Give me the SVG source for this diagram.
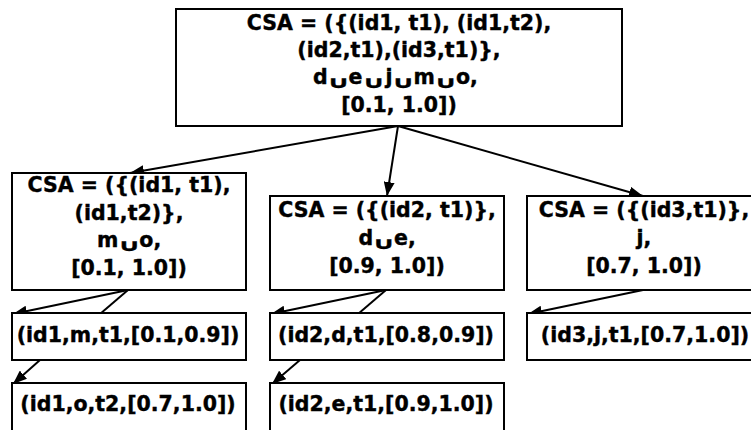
<svg xmlns="http://www.w3.org/2000/svg" width="751" height="430" viewBox="0 0 751 430">
  <defs>
    <style>
      .box { fill: #ffffff; stroke: #000000; stroke-width: 2; }
      .lbl { font-family: "DejaVu Sans", "Liberation Sans", sans-serif; font-weight: bold; font-size: 20.5px; fill: #000000; stroke: #000000; stroke-width: 0.4px; text-anchor: middle; }
      .row { text-anchor: start; }
      .edge { stroke: #000000; stroke-width: 2; fill: none; }
      .arrow { marker-end: url(#head); }
    </style>
    <marker id="head" markerUnits="userSpaceOnUse" markerWidth="15" markerHeight="11" refX="14" refY="5.5" orient="auto">
      <path d="M0,0 L14,5.5 L0,11 z" fill="#000000"/>
    </marker>
  </defs>
  <rect width="751" height="430" fill="#ffffff"/>

  <!-- connectors -->
  <g id="connectors">
    <line class="edge arrow" x1="398" y1="126" x2="130" y2="173"/>
    <line class="edge arrow" x1="398" y1="126" x2="387" y2="196"/>
    <line class="edge arrow" x1="398" y1="126" x2="643" y2="196"/>
    <line class="edge arrow" x1="128" y1="290" x2="13" y2="314"/>
    <line class="edge" x1="128" y1="290" x2="100" y2="314"/>
    <line class="edge arrow" x1="40" y1="360" x2="13" y2="384"/>
    <line class="edge arrow" x1="386" y1="290" x2="271" y2="314"/>
    <line class="edge" x1="386" y1="290" x2="358" y2="314"/>
    <line class="edge arrow" x1="300" y1="360" x2="272" y2="384"/>
    <line class="edge arrow" x1="643" y1="290" x2="528" y2="314"/>
  </g>

  <!-- root CSA -->
  <g id="csa-root">
    <rect class="box" x="176" y="9" width="446" height="117"/>
    <text class="lbl" x="399" y="30">CSA = ({(id1, t1), (id1,t2),</text>
    <text class="lbl" x="399" y="57">(id2,t1),(id3,t1)},</text>
    <!-- union of the sets: letters and wide, low union signs -->
    <text class="lbl row" x="313" y="84">d</text>
    <text class="lbl" transform="translate(338.1,88) scale(1.4,0.8)">∪</text>
    <text class="lbl row" x="348.6" y="84">e</text>
    <text class="lbl" transform="translate(373.5,88) scale(1.4,0.8)">∪</text>
    <text class="lbl row" x="385.5" y="84">j</text>
    <text class="lbl" transform="translate(403,88) scale(1.4,0.8)">∪</text>
    <text class="lbl row" x="413.5" y="84">m</text>
    <text class="lbl" transform="translate(445.4,88) scale(1.4,0.8)">∪</text>
    <text class="lbl row" x="455.9" y="84">o,</text>
    <text class="lbl" x="399" y="112">[0.1, 1.0])</text>
  </g>

  <!-- CSA for id1 -->
  <g id="csa-id1">
    <rect class="box" x="12" y="173" width="234" height="117"/>
    <text class="lbl" x="129" y="192">CSA = ({(id1, t1),</text>
    <text class="lbl" x="129" y="220">(id1,t2)},</text>
    <text class="lbl row" x="96.9" y="247">m</text>
    <text class="lbl" transform="translate(128.8,251) scale(1.4,0.8)">∪</text>
    <text class="lbl row" x="139.3" y="247">o,</text>
    <text class="lbl" x="129" y="275">[0.1, 1.0])</text>
  </g>

  <!-- CSA for id2 -->
  <g id="csa-id2">
    <rect class="box" x="270" y="196" width="234" height="94"/>
    <text class="lbl" x="387" y="217">CSA = ({(id2, t1)},</text>
    <text class="lbl row" x="358.4" y="245">d</text>
    <text class="lbl" transform="translate(383.5,249) scale(1.4,0.8)">∪</text>
    <text class="lbl row" x="394" y="245">e,</text>
    <text class="lbl" x="387" y="273">[0.9, 1.0])</text>
  </g>

  <!-- CSA for id3 -->
  <g id="csa-id3">
    <rect class="box" x="527" y="196" width="240" height="94"/>
    <text class="lbl" x="644" y="217">CSA = ({(id3,t1)},</text>
    <text class="lbl" x="644" y="245">j,</text>
    <text class="lbl" x="644" y="273">[0.7, 1.0])</text>
  </g>

  <!-- leaf entries -->
  <g id="leaf-id1-m">
    <rect class="box" x="12" y="313" width="234" height="47"/>
    <text class="lbl" x="128" y="342">(id1,m,t1,[0.1,0.9])</text>
  </g>
  <g id="leaf-id1-o">
    <rect class="box" x="12" y="383" width="234" height="60"/>
    <text class="lbl" x="128" y="411">(id1,o,t2,[0.7,1.0])</text>
  </g>
  <g id="leaf-id2-d">
    <rect class="box" x="270" y="313" width="234" height="47"/>
    <text class="lbl" x="386" y="342">(id2,d,t1,[0.8,0.9])</text>
  </g>
  <g id="leaf-id2-e">
    <rect class="box" x="270" y="383" width="234" height="60"/>
    <text class="lbl" x="386" y="411">(id2,e,t1,[0.9,1.0])</text>
  </g>
  <g id="leaf-id3-j">
    <rect class="box" x="527" y="313" width="240" height="47"/>
    <text class="lbl" x="645" y="342">(id3,j,t1,[0.7,1.0])</text>
  </g>
</svg>
